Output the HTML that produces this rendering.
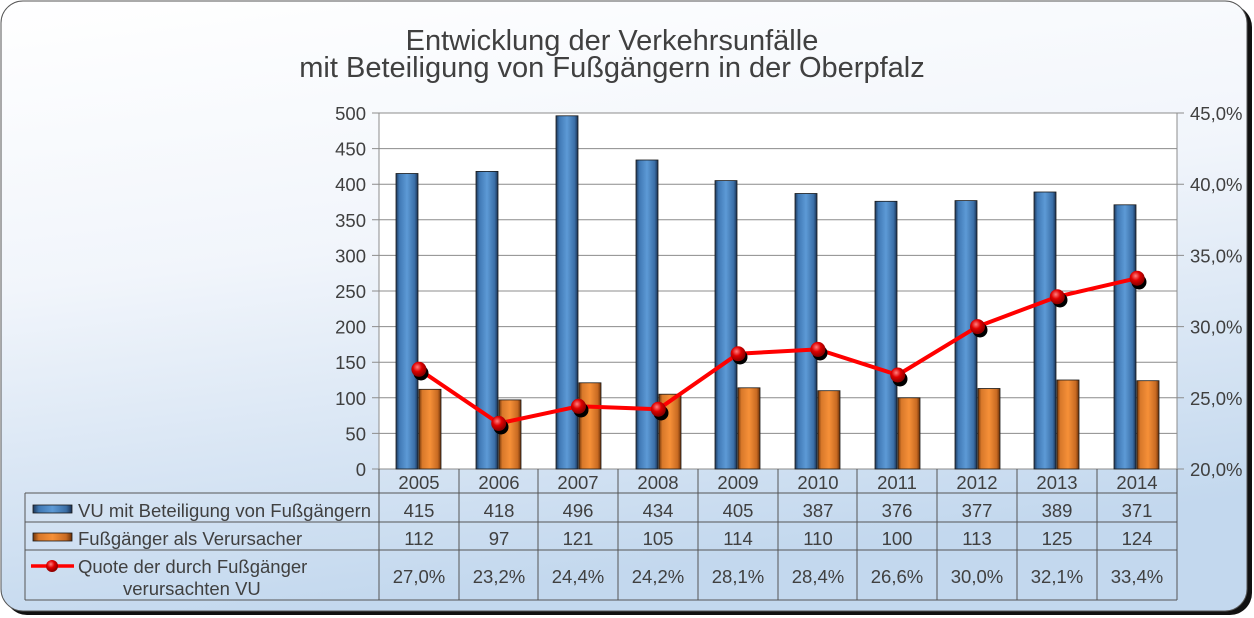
<!DOCTYPE html>
<html><head><meta charset="utf-8"><style>
html,body{margin:0;padding:0;background:#fff;}
svg{display:block;font-family:"Liberation Sans",sans-serif;}
</style></head><body>
<svg width="1254" height="618" viewBox="0 0 1254 618" xmlns="http://www.w3.org/2000/svg">
<defs>
<linearGradient id="bg" x1="0" y1="0" x2="0.25" y2="1">
<stop offset="0" stop-color="#ffffff"/><stop offset="0.45" stop-color="#f1f5fb"/><stop offset="1" stop-color="#c3d8ee"/>
</linearGradient>
<linearGradient id="bl" x1="0" y1="0" x2="1" y2="0">
<stop offset="0" stop-color="#1d3656"/><stop offset="0.15" stop-color="#3f78b4"/><stop offset="0.5" stop-color="#5d9ad6"/><stop offset="0.85" stop-color="#3a6ea6"/><stop offset="1" stop-color="#1a3050"/>
</linearGradient>
<linearGradient id="or" x1="0" y1="0" x2="1" y2="0">
<stop offset="0" stop-color="#6e340a"/><stop offset="0.15" stop-color="#d8782a"/><stop offset="0.5" stop-color="#f69038"/><stop offset="0.85" stop-color="#c86a22"/><stop offset="1" stop-color="#6a3008"/>
</linearGradient>
<radialGradient id="ball" cx="0.4" cy="0.35" r="0.6">
<stop offset="0" stop-color="#ff8080"/><stop offset="0.5" stop-color="#e00000"/><stop offset="1" stop-color="#900000"/>
</radialGradient>
</defs>
<rect x="5" y="5" width="1247" height="610" rx="22" fill="#111"/>
<rect x="1" y="1" width="1246" height="610" rx="22" fill="url(#bg)" stroke="#555" stroke-width="1"/>
<text x="612" y="50" font-size="29" fill="#404040" text-anchor="middle">Entwicklung der Verkehrsunfälle</text>
<text x="612" y="77" font-size="29" fill="#404040" text-anchor="middle">mit Beteiligung von Fußgängern in der Oberpfalz</text>
<rect x="379" y="113" width="798" height="356" fill="#fff"/>
<g stroke="#8c8c8c" stroke-width="1">
<line x1="372" y1="113" x2="1184" y2="113"/><line x1="372" y1="148.6" x2="1177" y2="148.6"/><line x1="372" y1="184.2" x2="1184" y2="184.2"/><line x1="372" y1="219.8" x2="1177" y2="219.8"/><line x1="372" y1="255.4" x2="1184" y2="255.4"/><line x1="372" y1="291" x2="1177" y2="291"/><line x1="372" y1="326.6" x2="1184" y2="326.6"/><line x1="372" y1="362.2" x2="1177" y2="362.2"/><line x1="372" y1="397.8" x2="1184" y2="397.8"/><line x1="372" y1="433.4" x2="1177" y2="433.4"/><line x1="372" y1="469" x2="1184" y2="469"/>
<line x1="379" y1="113" x2="379" y2="469"/><line x1="1177" y1="113" x2="1177" y2="469"/>
</g>
<g font-size="18.5" fill="#404040" text-anchor="end">
<text x="366" y="120">500</text><text x="366" y="155.6">450</text><text x="366" y="191.2">400</text><text x="366" y="226.8">350</text><text x="366" y="262.4">300</text><text x="366" y="298">250</text><text x="366" y="333.6">200</text><text x="366" y="369.2">150</text><text x="366" y="404.8">100</text><text x="366" y="440.4">50</text><text x="366" y="476">0</text>
</g>
<g font-size="18.5" fill="#404040">
<text x="1190" y="120">45,0%</text><text x="1190" y="191.2">40,0%</text><text x="1190" y="262.4">35,0%</text><text x="1190" y="333.6">30,0%</text><text x="1190" y="404.8">25,0%</text><text x="1190" y="476">20,0%</text>
</g>
<g stroke="#1a1a1a" stroke-width="0.8">
<rect x="396" y="173.5" width="22" height="295.5" fill="url(#bl)"/><rect x="419" y="389.3" width="22" height="79.7" fill="url(#or)"/>
<rect x="476" y="171.4" width="22" height="297.6" fill="url(#bl)"/><rect x="499" y="399.9" width="22" height="69.1" fill="url(#or)"/>
<rect x="556" y="115.8" width="22" height="353.2" fill="url(#bl)"/><rect x="579" y="382.8" width="22" height="86.2" fill="url(#or)"/>
<rect x="636" y="160" width="22" height="309" fill="url(#bl)"/><rect x="659" y="394.2" width="22" height="74.8" fill="url(#or)"/>
<rect x="715" y="180.6" width="22" height="288.4" fill="url(#bl)"/><rect x="738" y="387.8" width="22" height="81.2" fill="url(#or)"/>
<rect x="795" y="193.5" width="22" height="275.5" fill="url(#bl)"/><rect x="818" y="390.7" width="22" height="78.3" fill="url(#or)"/>
<rect x="875" y="201.3" width="22" height="267.7" fill="url(#bl)"/><rect x="898" y="397.8" width="22" height="71.2" fill="url(#or)"/>
<rect x="955" y="200.6" width="22" height="268.4" fill="url(#bl)"/><rect x="978" y="388.5" width="22" height="80.5" fill="url(#or)"/>
<rect x="1034" y="192" width="22" height="277" fill="url(#bl)"/><rect x="1057" y="380" width="22" height="89" fill="url(#or)"/>
<rect x="1114" y="204.8" width="22" height="264.2" fill="url(#bl)"/><rect x="1137" y="380.7" width="22" height="88.3" fill="url(#or)"/>
</g>
<polyline points="418.9,369.3 498.7,423.4 578.5,406.3 658.3,409.2 738.1,353.7 817.9,349.4 897.7,375 977.5,326.6 1057.3,296.7 1137.1,278.2" fill="none" stroke="#ff0000" stroke-width="4" stroke-linejoin="round"/>
<g fill="#000">
<circle cx="421" cy="373" r="7.5"/><circle cx="501" cy="427" r="7.5"/><circle cx="581" cy="410" r="7.5"/><circle cx="661" cy="413" r="7.5"/><circle cx="740" cy="357" r="7.5"/><circle cx="820" cy="353" r="7.5"/><circle cx="900" cy="379" r="7.5"/><circle cx="980" cy="330" r="7.5"/><circle cx="1060" cy="300" r="7.5"/><circle cx="1139" cy="282" r="7.5"/>
</g>
<g fill="url(#ball)">
<circle cx="418.9" cy="369.3" r="7.5"/><circle cx="498.7" cy="423.4" r="7.5"/><circle cx="578.5" cy="406.3" r="7.5"/><circle cx="658.3" cy="409.2" r="7.5"/><circle cx="738.1" cy="353.7" r="7.5"/><circle cx="817.9" cy="349.4" r="7.5"/><circle cx="897.7" cy="375" r="7.5"/><circle cx="977.5" cy="326.6" r="7.5"/><circle cx="1057.3" cy="296.7" r="7.5"/><circle cx="1137.1" cy="278.2" r="7.5"/>
</g>
<g stroke="#555" stroke-width="1" fill="none">
<line x1="25" y1="493" x2="1177" y2="493"/><line x1="25" y1="522" x2="1177" y2="522"/><line x1="25" y1="550" x2="1177" y2="550"/><line x1="25" y1="600" x2="1177" y2="600"/>
<line x1="25" y1="493" x2="25" y2="600"/>
<line x1="379" y1="469" x2="379" y2="600"/><line x1="459" y1="469" x2="459" y2="600"/><line x1="538" y1="469" x2="538" y2="600"/><line x1="618" y1="469" x2="618" y2="600"/><line x1="698" y1="469" x2="698" y2="600"/><line x1="778" y1="469" x2="778" y2="600"/><line x1="857" y1="469" x2="857" y2="600"/><line x1="937" y1="469" x2="937" y2="600"/><line x1="1017" y1="469" x2="1017" y2="600"/><line x1="1097" y1="469" x2="1097" y2="600"/><line x1="1177" y1="469" x2="1177" y2="600"/>
</g>
<g font-size="18.5" fill="#404040" text-anchor="middle">
<text x="419" y="489">2005</text><text x="499" y="489">2006</text><text x="578" y="489">2007</text><text x="658" y="489">2008</text><text x="738" y="489">2009</text><text x="818" y="489">2010</text><text x="897" y="489">2011</text><text x="977" y="489">2012</text><text x="1057" y="489">2013</text><text x="1137" y="489">2014</text>
<text x="419" y="517">415</text><text x="499" y="517">418</text><text x="578" y="517">496</text><text x="658" y="517">434</text><text x="738" y="517">405</text><text x="818" y="517">387</text><text x="897" y="517">376</text><text x="977" y="517">377</text><text x="1057" y="517">389</text><text x="1137" y="517">371</text>
<text x="419" y="545">112</text><text x="499" y="545">97</text><text x="578" y="545">121</text><text x="658" y="545">105</text><text x="738" y="545">114</text><text x="818" y="545">110</text><text x="897" y="545">100</text><text x="977" y="545">113</text><text x="1057" y="545">125</text><text x="1137" y="545">124</text>
<text x="419" y="583">27,0%</text><text x="499" y="583">23,2%</text><text x="578" y="583">24,4%</text><text x="658" y="583">24,2%</text><text x="738" y="583">28,1%</text><text x="818" y="583">28,4%</text><text x="897" y="583">26,6%</text><text x="977" y="583">30,0%</text><text x="1057" y="583">32,1%</text><text x="1137" y="583">33,4%</text>
</g>
<rect x="33" y="505" width="39" height="8" fill="url(#bl)" stroke="#1a1a1a" stroke-width="0.8"/>
<rect x="33" y="533" width="39" height="8" fill="url(#or)" stroke="#1a1a1a" stroke-width="0.8"/>
<line x1="31" y1="566" x2="74" y2="566" stroke="#ff0000" stroke-width="3.5"/>
<circle cx="52" cy="566" r="6" fill="url(#ball)"/>
<g font-size="18.5" fill="#404040">
<text x="78" y="517">VU mit Beteiligung von Fußgängern</text>
<text x="78" y="545">Fußgänger als Verursacher</text>
<text x="78" y="573">Quote der durch Fußgänger</text>
<text x="123" y="595">verursachten VU</text>
</g>
</svg>
</body></html>
